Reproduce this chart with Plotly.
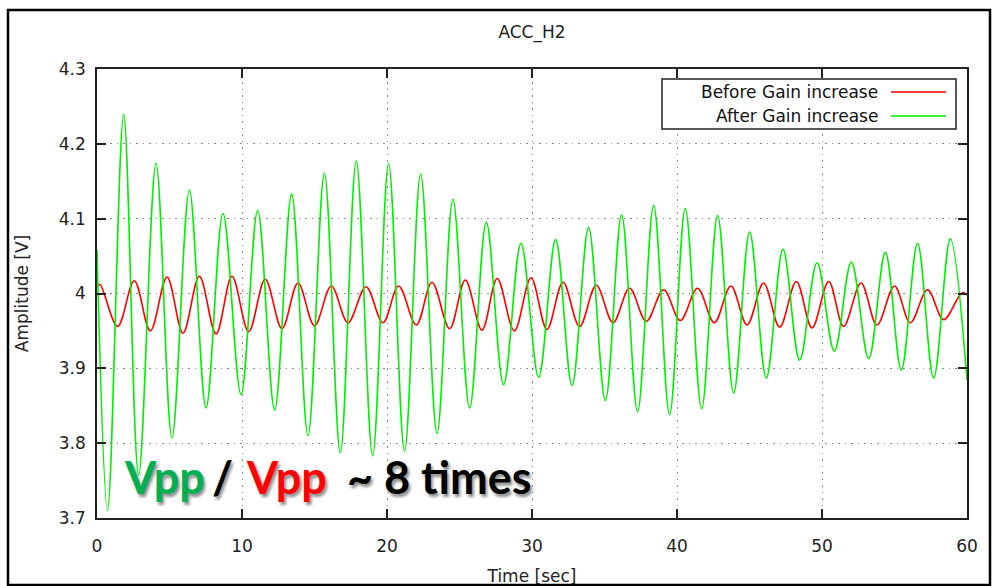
import plotly.graph_objects as go

# ---------------- data ----------------
green_t = [0.0, 0.73, 1.84, 2.87, 4.07, 5.17, 6.37, 7.52, 8.69, 9.93, 11.08, 12.25,
           13.42, 14.55, 15.68, 16.78, 17.88, 19.01, 20.11, 21.21, 22.32, 23.45,
           24.55, 25.70, 26.85, 28.04, 29.24, 30.46, 31.63, 32.76, 33.90, 35.06,
           36.18, 37.28, 38.39, 39.49, 40.57, 41.70, 42.80, 43.91, 45.01, 46.16,
           47.31, 48.46, 49.66, 50.85, 52.02, 53.22, 54.37, 55.47, 56.59, 57.70,
           58.85, 60.0]
green_v = [4.058, 3.710, 4.239, 3.757, 4.174, 3.807, 4.138, 3.847, 4.107, 3.865, 4.111, 3.844,
           4.133, 3.810, 4.161, 3.787, 4.177, 3.783, 4.174, 3.789, 4.160, 3.813,
           4.126, 3.847, 4.095, 3.878, 4.067, 3.888, 4.072, 3.877, 4.088, 3.857,
           4.105, 3.842, 4.118, 3.838, 4.114, 3.846, 4.104, 3.867, 4.082, 3.887,
           4.059, 3.911, 4.041, 3.923, 4.042, 3.913, 4.055, 3.898, 4.067, 3.887,
           4.073, 3.884]

red_t = [0.0, 0.20, 1.42, 2.57, 3.68, 4.83, 5.93, 7.06, 8.21, 9.31, 10.46, 11.60,
         12.76, 13.86, 15.00, 16.16, 17.31, 18.55, 19.72, 20.80, 22.02, 23.10,
         24.32, 25.40, 26.55, 27.60, 28.78, 29.93, 31.03, 32.14, 33.28, 34.43,
         35.59, 36.73, 37.88, 39.08, 40.23, 41.42, 42.57, 43.72, 44.83, 45.97,
         47.08, 48.23, 49.31, 50.46, 51.49, 52.69, 53.79, 55.00, 56.09, 57.28,
         58.39, 59.66, 60.0]
red_v = [4.009, 4.012, 3.956, 4.017, 3.950, 4.022, 3.947, 4.023, 3.946, 4.023, 3.949, 4.019,
         3.953, 4.014, 3.957, 4.010, 3.961, 4.009, 3.961, 4.010, 3.958, 4.015,
         3.953, 4.018, 3.951, 4.020, 3.950, 4.021, 3.952, 4.015, 3.956, 4.011,
         3.961, 4.007, 3.963, 4.005, 3.964, 4.007, 3.961, 4.010, 3.958, 4.014,
         3.955, 4.016, 3.954, 4.016, 3.956, 4.014, 3.958, 4.010, 3.961, 4.005,
         3.965, 4.001, 3.998]

series_names = ["Before Gain increase", "After Gain increase"]
series_colors = ["#ff0000", "#00ee00"]
x_ticks = [0, 10, 20, 30, 40, 50, 60]
y_ticks = [3.7, 3.8, 3.9, 4.0, 4.1, 4.2, 4.3]
y_tick_text = ["3.7", "3.8", "3.9", "4", "4.1", "4.2", "4.3"]
chart_title = "ACC_H2"
x_title = "Time [sec]"
y_title = "Amplitude [V]"

# ---------------- layout geometry ----------------
W, H = 992, 586
ML, MR, MT, MB = 97, 25, 69, 68
PW, PH = W - ML - MR, H - MT - MB


def px(x):
    return (x - ML) / PW


def py(y):
    return (H - MB - y) / PH


FONT = "DejaVu Sans"

fig = go.Figure()
fig.add_trace(go.Scatter(x=red_t, y=red_v, mode="lines", name=series_names[0],
                         line=dict(color=series_colors[0], width=1.6, shape="spline", smoothing=1.0),
                         showlegend=False))
fig.add_trace(go.Scatter(x=green_t, y=green_v, mode="lines", name=series_names[1],
                         line=dict(color=series_colors[1], width=1.6, shape="spline", smoothing=1.0),
                         showlegend=False))

axis_common = dict(showline=True, linecolor="#222222", linewidth=1.5, mirror="ticks",
                   ticks="inside", ticklen=9, tickwidth=1.5, tickcolor="#222222",
                   showgrid=True, gridcolor="#8a8a8a", gridwidth=1, griddash="1.5px,5px",
                   zeroline=False, automargin=False,
                   tickfont=dict(family=FONT, size=17, color="#222222"))

fig.update_xaxes(range=[0, 60], tickvals=x_ticks, ticktext=[str(v) for v in x_ticks],
                 title=dict(text=x_title, font=dict(family=FONT, size=17, color="#222222"), standoff=38),
                 ticklabelstandoff=12, **axis_common)
fig.update_yaxes(range=[3.7, 4.3], tickvals=y_ticks, ticktext=y_tick_text,
                 title=dict(text=y_title, font=dict(family=FONT, size=17, color="#222222"), standoff=26),
                 ticklabelstandoff=6, **axis_common)

shapes = [
    # outer frame of the picture
    dict(type="rect", xref="paper", yref="paper", x0=px(8), x1=px(990), y0=py(585), y1=py(10),
         line=dict(color="black", width=2.5), fillcolor="rgba(0,0,0,0)", layer="above"),
    # legend box
    dict(type="rect", xref="paper", yref="paper", x0=px(662), x1=px(956), y0=py(129), y1=py(79),
         line=dict(color="#222222", width=1.5), fillcolor="white", layer="above"),
    dict(type="line", xref="paper", yref="paper", x0=px(891), x1=px(946), y0=py(92), y1=py(92),
         line=dict(color=series_colors[0], width=1.6), layer="above"),
    dict(type="line", xref="paper", yref="paper", x0=px(891), x1=px(946), y0=py(116), y1=py(116),
         line=dict(color=series_colors[1], width=1.6), layer="above"),
]

annotations = [
    dict(text=series_names[0], x=px(880), y=py(92), xref="paper", yref="paper",
         xanchor="right", yanchor="middle", showarrow=False,
         font=dict(family=FONT, size=17, color="#111111")),
    dict(text=series_names[1], x=px(880), y=py(116), xref="paper", yref="paper",
         xanchor="right", yanchor="middle", showarrow=False,
         font=dict(family=FONT, size=17, color="#111111")),
]

BIG = "Lato"
shadow = "2px 3px 3px rgba(0,0,0,0.45)"
for txt, xl, col in [("Vpp", 122, "#00b050"), ("/", 210, "#000000"),
                     ("Vpp", 244, "#ff0000"), ("~ 8 times", 345, "#000000")]:
    annotations.append(dict(text="<b>%s</b>" % txt, x=px(xl), y=py(477), xref="paper", yref="paper",
                            xanchor="left", yanchor="middle", showarrow=False,
                            font=dict(family=BIG, size=45, color=col, shadow=shadow)))

fig.update_layout(
    width=W, height=H,
    margin=dict(l=ML, r=MR, t=MT, b=MB, pad=0, autoexpand=False),
    paper_bgcolor="white", plot_bgcolor="white",
    title=dict(text=chart_title, x=532 / W, xref="container", xanchor="center",
               y=1 - 32 / H, yanchor="middle",
               font=dict(family=FONT, size=17, color="#222222")),
    shapes=shapes, annotations=annotations, showlegend=False,
)

fig.write_html("out.html")
